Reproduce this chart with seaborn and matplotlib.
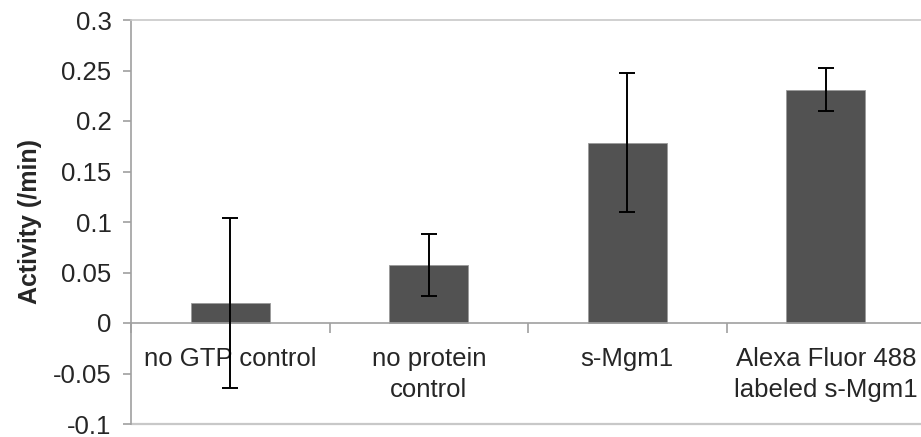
import pandas as pd
import numpy as np
import seaborn as sns
import matplotlib.pyplot as plt
from matplotlib.ticker import FixedLocator

# values
categories = ["no GTP control", "no protein\ncontrol", "s-Mgm1", "Alexa Fluor 488\nlabeled s-Mgm1"]
activity = [0.020, 0.0575, 0.1785, 0.231]
errors = [0.084, 0.031, 0.069, 0.021]
yticks = [-0.1, -0.05, 0, 0.05, 0.1, 0.15, 0.2, 0.25, 0.3]
ytick_labels = ["-0.1", "-0.05", "0", "0.05", "0.1", "0.15", "0.2", "0.25", "0.3"]

df = pd.DataFrame({"Condition": categories, "Activity": activity})

sns.set_theme(style="white")
plt.rcParams["font.family"] = ["Liberation Sans", "DejaVu Sans"]

fig = plt.figure(figsize=(9.21, 4.37), dpi=100)
ax = fig.add_axes([131 / 921, 13 / 437, 794 / 921, 404 / 437])

sns.barplot(data=df, x="Condition", y="Activity", color="#525252", width=0.4,
            errorbar=None, edgecolor="#9a9a9a", linewidth=0.6, saturation=1, ax=ax)
ax.errorbar(x=np.arange(len(categories)), y=activity, yerr=errors, fmt="none",
            ecolor="black", elinewidth=1.4, capsize=5.5, capthick=1.4, zorder=5)

ax.set_xlim(-0.5, len(categories) - 0.5)
ax.set_ylim(-0.1, 0.3)
ax.set_yticks(yticks)
ax.set_yticklabels(ytick_labels)

# category axis sits on zero, tick marks between categories
ax.spines["bottom"].set_position(("data", 0))
ax.spines["bottom"].set_color("#a0a0a0")
ax.spines["left"].set_color("#a0a0a0")
ax.spines["top"].set_color("#c8c8c8")
ax.spines["right"].set_color("#c8c8c8")
for s in ax.spines.values():
    s.set_linewidth(1.2)
ax.axhline(-0.1, color="#c8c8c8", linewidth=1.6, clip_on=False, zorder=0)

ax.xaxis.set_minor_locator(FixedLocator(np.arange(len(categories) + 1) - 0.5))
ax.tick_params(axis="x", which="major", length=0, pad=17, labelsize=18.5)
ax.tick_params(axis="x", which="minor", bottom=True, length=7, width=1.2, color="#a0a0a0")
ax.tick_params(axis="y", left=True, length=6, width=1.2, color="#a0a0a0", labelsize=18.5, pad=8)
for lbl in ax.get_xticklabels():
    lbl.set_linespacing(1.4)

ax.set_xlabel("")
ax.set_ylabel("Activity (/min)", fontsize=18, fontweight="bold", labelpad=8)

fig.savefig("out.png", dpi=100)
